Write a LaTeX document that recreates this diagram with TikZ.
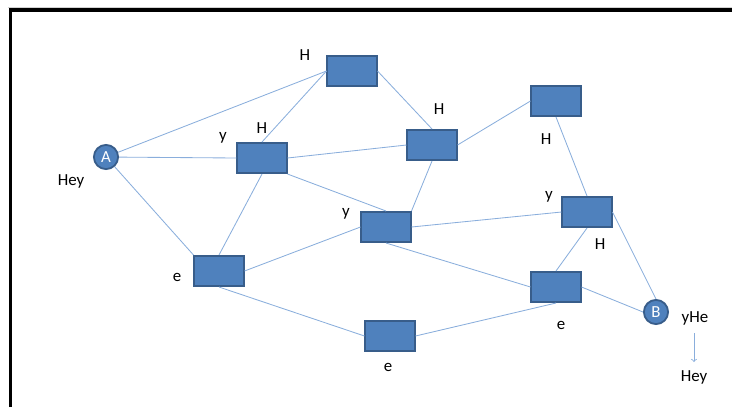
\documentclass[tikz,border=0pt]{standalone}
\usepackage{fontspec}
\setmainfont{Carlito}

\definecolor{boxblue}{HTML}{4F81BD}
\definecolor{boxedge}{HTML}{385D8A}
\definecolor{linkblue}{HTML}{8AAEDC}

\begin{document}
\begin{tikzpicture}[
    router/.style={draw=boxedge, line width=1.3pt, fill=boxblue,
      minimum width=1.23cm, minimum height=0.755cm, inner sep=0pt},
    host/.style={circle, draw=boxedge, line width=1.3pt, fill=boxblue,
      minimum size=0.605cm, inner sep=0pt, text=white,
      font=\fontsize{12}{14}\selectfont},
    link/.style={linkblue, line width=0.6pt},
    tag/.style={font=\fontsize{12}{14}\selectfont, inner sep=0pt}
  ]
  \useasboundingbox (0,0) rectangle (18.3,-10.175);

  % frame
  \draw[gray!35, line width=0.5pt] (0.2,-0.175) -- (18.3,-0.175);
  \draw[line width=2.2pt] (0.2625,-10.175) -- (0.2625,-0.25) -- (18.3,-0.25);

  % end hosts
  \node[host] (A) at (2.65,-3.925) {A};
  \node[host] (B) at (16.4,-7.8) {B};

  % routers
  \node[router] (r1) at (8.8,-1.775) {};
  \node[router] (r2) at (6.55,-3.95) {};
  \node[router] (r3) at (10.8,-3.625) {};
  \node[router] (r4) at (13.9,-2.525) {};
  \node[router] (r5) at (14.675,-5.3) {};
  \node[router] (r6) at (9.65,-5.675) {};
  \node[router] (r7) at (5.475,-6.775) {};
  \node[router] (r8) at (13.9,-7.175) {};
  \node[router] (r9) at (9.75,-8.4) {};

  % links
  \draw[link] (A) -- (r1.west);
  \draw[link] (A) -- (r2.west);
  \draw[link] (A) -- (r7.north west);
  \draw[link] (r2.north) -- (r1.west);
  \draw[link] (r2.east) -- (r3.west);
  \draw[link] (r2.south east) -- (r6.north);
  \draw[link] (r2.south) -- (r7.north);
  \draw[link] (r1.east) -- (r3.north);
  \draw[link] (r3.east) -- (r4.west);
  \draw[link] (r3.south) -- (r6.north east);
  \draw[link] (r4.south) -- (r5.north);
  \draw[link] (r6.east) -- (r5.west);
  \draw[link] (r5.south) -- (r8.north);
  \draw[link] (r5.east) -- (B.north);
  \draw[link] (r6.south) -- (r8.west);
  \draw[link] (r8.east) -- (B.west);
  \draw[link] (r9.east) -- (r8.south);
  \draw[link] (r7.south) -- (r9.west);
  \draw[link] (r7.east) -- (r6.west);

  % labels
  \node[tag] (h1) at (7.625,-1.375) {H};
  \node[tag] (y2) at (5.575,-3.45) {y};
  \node[tag] (h2) at (6.55,-3.2) {H};
  \node[tag] (h3) at (10.975,-2.725) {H};
  \node[tag] (h4) at (13.65,-3.475) {H};
  \node[tag] (y5) at (13.725,-4.925) {y};
  \node[tag] (h5) at (15.0,-6.1) {H};
  \node[tag] (y6) at (8.65,-5.35) {y};
  \node[tag] (e7) at (4.425,-6.925) {e};
  \node[tag] (e8) at (14.025,-8.125) {e};
  \node[tag] (e9) at (9.7,-9.175) {e};
  \node[tag] (sent) at (1.775,-4.525) {Hey};
  \node[tag] (recv) at (17.375,-7.95) {yHe};
  \node[tag] (fixed) at (17.35,-9.425) {Hey};

  % reordering arrow
  \coordinate (turn) at (17.35,-8.325);
  \coordinate (done) at (17.35,-9.05);
  \draw[link, ->] (turn) -- (done);
\end{tikzpicture}
\end{document}
